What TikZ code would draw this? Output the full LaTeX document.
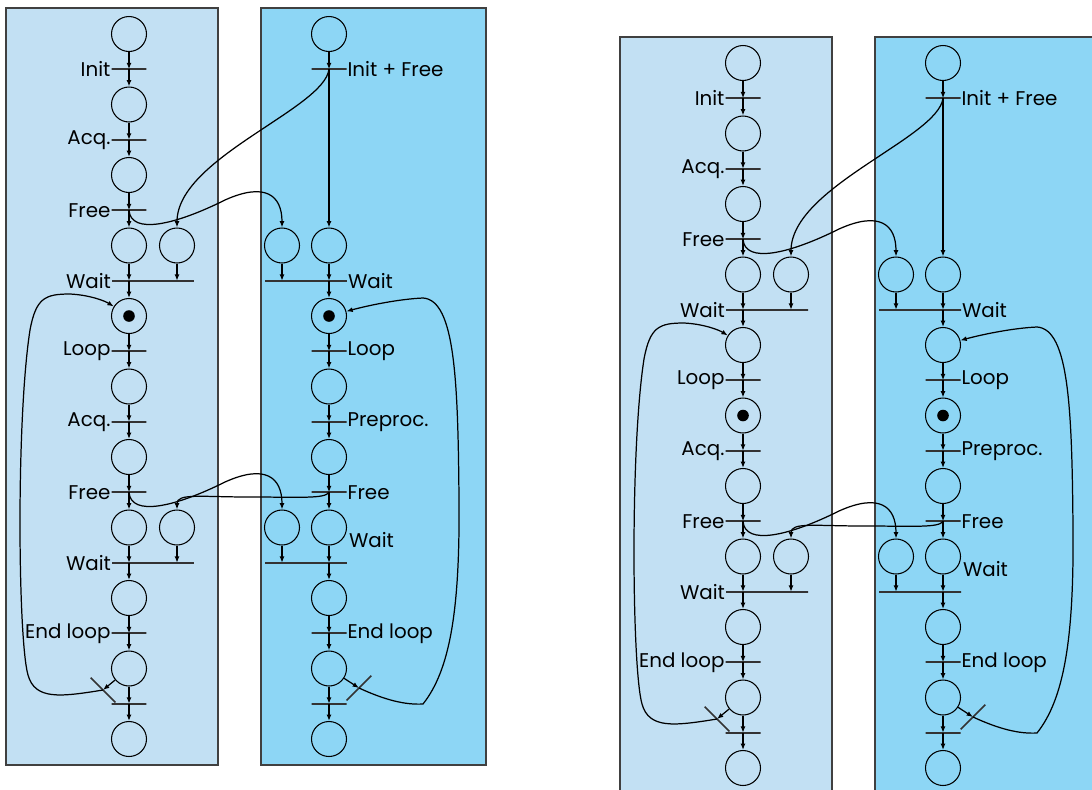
\documentclass[tikz,border=0pt]{standalone}
\usepackage{fontspec}
\setmainfont{Poppins}
\usetikzlibrary{arrows.meta}

\definecolor{paneA}{RGB}{194,224,243}
\definecolor{paneB}{RGB}{141,214,245}
\definecolor{paneline}{RGB}{64,64,64}

\tikzset{
  place/.style={circle, draw, line width=0.6pt, minimum size=0.7cm, inner sep=0pt},
  tbar/.style={draw=black!80, line width=0.9pt, minimum width=0.7cm, minimum height=0pt, inner sep=0pt, outer sep=0pt},
  lbl/.style={font=\fontsize{11.3}{13}\selectfont, inner sep=0.4pt},
  flow/.style={-{Latex[length=3.6pt,width=2.8pt]}, line width=0.7pt},
  panel/.style={draw=paneline, line width=1pt},
}

\begin{document}
\begin{tikzpicture}[x=0.02cm, y=-0.02cm]
  \clip (0,0) rectangle (1092,789);

  % the same net twice, token moved one place down on the right
  \foreach \side/\sx/\sy/\tok in {L/0/0/8, R/614/29/10} {
  \begin{scope}[shift={(\sx,\sy)}]
    \filldraw[panel, fill=paneA] (6,8) rectangle (218,765);
    \filldraw[panel, fill=paneB] (261,8) rectangle (486,765);

    % left column
    \foreach \k in {0,2,...,20}
      \node[place] (\side pa\k) at (129,{34+35.25*\k}) {};
    \node[place] (\side xa6) at (177,{34+35.25*6}) {};
    \node[place] (\side xa14) at (177,{34+35.25*14}) {};
    \foreach \k/\txt in {1/Init,3/Acq.,5/Free,9/Loop,11/Acq.,13/Free,17/End loop}
      \node[tbar, label={[lbl]left:\txt}] (\side ta\k) at (129,{34+35.25*\k}) {};
    \node[tbar] (\side ta19) at (129,{34+35.25*19}) {};
    \foreach \k in {7,15}
      \node[tbar, minimum width=1.64cm, label={[lbl]left:Wait}] (\side ta\k) at (153,{34+35.25*\k}) {};

    % right column
    \foreach \k in {0,6,8,...,20}
      \node[place] (\side pb\k) at (329,{34+35.25*\k}) {};
    \node[place] (\side xb6) at (282,{34+35.25*6}) {};
    \node[place] (\side xb14) at (282,{34+35.25*14}) {};
    \foreach \k/\txt in {1/Init + Free,9/Loop,11/Preproc.,13/Free,17/End loop}
      \node[tbar, label={[lbl]right:\txt}] (\side tb\k) at (329,{34+35.25*\k}) {};
    \node[tbar] (\side tb19) at (329,{34+35.25*19}) {};
    \node[tbar, minimum width=1.64cm, label={[lbl]right:Wait}] (\side tb7) at (306,{34+35.25*7}) {};
    \node[tbar, minimum width=1.64cm] (\side tb15) at (306,{34+35.25*15}) {};
    \node[lbl, anchor=west] (\side wb) at (348,540) {Wait};

    \fill (\side pa\tok) circle (5.8);
    \fill (\side pb\tok) circle (5.8);

    % straight flows
    \foreach \k/\m/\nx in {0/1/2,2/3/4,4/5/6,8/9/10,10/11/12,12/13/14,16/17/18,18/19/20} {
      \draw[flow] (\side pa\k) -- (\side ta\m.center);
      \draw[flow] (\side ta\m.center) -- (\side pa\nx);
    }
    \foreach \k/\m/\nx in {8/9/10,10/11/12,12/13/14,16/17/18,18/19/20} {
      \draw[flow] (\side pb\k) -- (\side tb\m.center);
      \draw[flow] (\side tb\m.center) -- (\side pb\nx);
    }
    \draw[flow] (\side pb0) -- (\side tb1.center);
    \draw[flow] (\side tb1.center) -- (\side pb6);
    \foreach \k/\m/\nx in {6/7/8,14/15/16} {
      \draw[flow] (\side pa\k) -- (\side pa\k |- \side ta\m);
      \draw[flow] (\side xa\k) -- (\side xa\k |- \side ta\m);
      \draw[flow] (\side pa\k |- \side ta\m) -- (\side pa\nx);
      \draw[flow] (\side pb\k) -- (\side pb\k |- \side tb\m);
      \draw[flow] (\side xb\k) -- (\side xb\k |- \side tb\m);
      \draw[flow] (\side pb\k |- \side tb\m) -- (\side pb\nx);
    }

    % crossing flows
    \draw[flow] (\side tb1.center) .. controls (324,109) and (177,158) .. (\side xa6);
    \draw[flow] (\side ta5.center) .. controls (131,235) and (175,225) .. (225,200)
      .. controls (265,182) and (282,195) .. (\side xb6);
    \draw[flow] (\side ta13.center) .. controls (131,517) and (175,507) .. (225,482)
      .. controls (265,464) and (282,477) .. (\side xb14);
    \draw[flow] (\side tb13.center) .. controls (325,499) and (300,497) .. (250,497)
      .. controls (200,497) and (177,493) .. (\side xa14);

    % loops back
    \node[tbar, rotate=-45] (\side sa) at (103,690) {};
    \draw[flow] (\side pa18) -- (\side sa.center);
    \draw[flow] (\side sa.center) .. controls (60,697) and (35,700) .. (28,675)
      .. controls (18,640) and (16,420) .. (30,330)
      .. controls (36,298) and (45,294) .. (70,294)
      .. controls (90,295) and (105,301) .. (\side pa8);
    \node[tbar, rotate=45] (\side sb) at (359,688) {};
    \draw[flow] (\side pb18) -- (\side sb.center);
    \draw[flow] (\side sb.center) .. controls (385,700) and (405,705) .. (423,704)
      .. controls (450,670) and (460,610) .. (459,500)
      .. controls (458,380) and (455,300) .. (423,298)
      .. controls (400,299) and (370,305) .. (\side pb8);
  \end{scope}
  }
\end{tikzpicture}
\end{document}
